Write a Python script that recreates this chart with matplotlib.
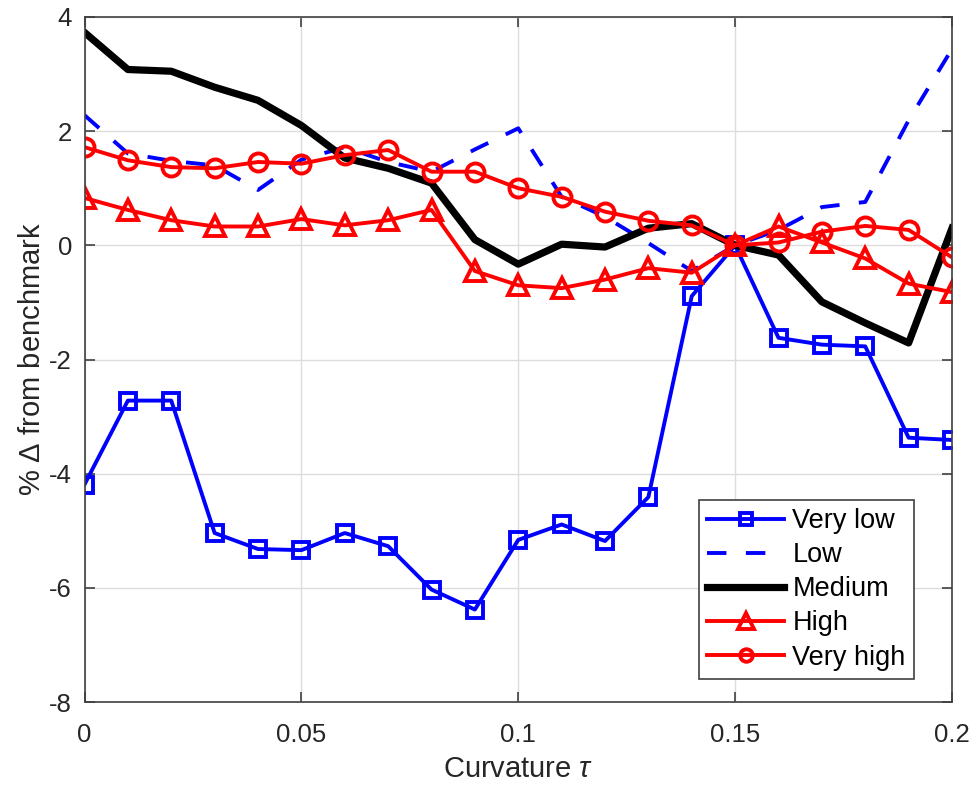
import numpy as np
import matplotlib
matplotlib.use("Agg")
import matplotlib.pyplot as plt

plt.rcParams['font.family'] = ['Liberation Sans', 'DejaVu Sans']
plt.rcParams['mathtext.fontset'] = 'custom'
plt.rcParams['mathtext.it'] = 'Liberation Sans:italic'
plt.rcParams['mathtext.rm'] = 'Liberation Sans'
plt.rcParams['axes.unicode_minus'] = False

tau = [0.00, 0.01, 0.02, 0.03, 0.04, 0.05, 0.06, 0.07, 0.08, 0.09, 0.10,
       0.11, 0.12, 0.13, 0.14, 0.15, 0.16, 0.17, 0.18, 0.19, 0.20]

very_low = [-4.19, -2.72, -2.72, -5.04, -5.32, -5.34, -5.04, -5.27, -6.03, -6.38, -5.16,
            -4.89, -5.18, -4.41, -0.89, 0.0, -1.62, -1.74, -1.77, -3.37, -3.41]
low = [2.28, 1.61, 1.48, 1.40, 0.97, 1.50, 1.72, 1.46, 1.29, 1.68, 2.05,
       0.85, 0.50, 0.04, -0.45, 0.0, 0.27, 0.67, 0.76, 2.19, 3.44]
medium = [3.73, 3.08, 3.05, 2.77, 2.54, 2.10, 1.53, 1.35, 1.09, 0.10, -0.33,
          0.02, -0.03, 0.30, 0.38, 0.0, -0.17, -0.99, -1.36, -1.71, 0.30]
high = [0.83, 0.62, 0.44, 0.33, 0.33, 0.46, 0.35, 0.44, 0.62, -0.45, -0.70,
        -0.75, -0.60, -0.40, -0.48, 0.0, 0.33, 0.05, -0.23, -0.67, -0.82]
very_high = [1.72, 1.49, 1.37, 1.35, 1.46, 1.43, 1.58, 1.67, 1.29, 1.29, 1.00,
             0.85, 0.59, 0.43, 0.35, 0.0, 0.05, 0.24, 0.34, 0.27, -0.21]

labels = ['Very low', 'Low', 'Medium', 'High', 'Very high']
xticks = [0, 0.05, 0.1, 0.15, 0.2]
xticklabels = ['0', '0.05', '0.1', '0.15', '0.2']
yticks = [-8, -6, -4, -2, 0, 2, 4]

fig = plt.figure(figsize=(9.75, 7.88), dpi=100)
ax = fig.add_axes([84.5/975, 1 - 702/788, (952 - 84.5)/975, (702 - 17)/788])

ax.plot(tau, very_low, color='#0000ff', lw=2.8, marker='s', ms=11.5, mfc='none',
        mew=2.8, label=labels[0])
ax.plot(tau, low, color='#0000ff', lw=2.8, ls=(0, (5, 5)), dash_capstyle='butt',
        label=labels[1])
ax.plot(tau, medium, color='black', lw=5.2, label=labels[2])
ax.plot(tau, high, color='#ff0000', lw=2.8, marker='^', ms=15, mfc='none',
        mew=2.8, label=labels[3])
ax.plot(tau, very_high, color='#ff0000', lw=2.8, marker='o', ms=13, mfc='none',
        mew=2.8, label=labels[4])

ax.set_xlim(0, 0.2)
ax.set_ylim(-8, 4)
ax.set_xticks(xticks)
ax.set_xticklabels(xticklabels)
ax.set_yticks(yticks)
ax.grid(True, color='#dcdcdc', lw=1.0)
ax.set_axisbelow(True)
for s in ax.spines.values():
    s.set_color('#404040')
    s.set_linewidth(1.2)
ax.tick_params(direction='in', length=7, width=1.2, colors='#404040',
               labelcolor='#262626', labelsize=18.5, top=True, right=True)
ax.tick_params(axis='x', pad=15)
ax.tick_params(axis='y', pad=9)

ax.set_xlabel(r'Curvature $\tau$', fontsize=21, color='#262626', labelpad=6)
ax.set_ylabel(r'% $\Delta$ from benchmark', fontsize=21, color='#262626', labelpad=2)

leg = fig.legend(loc='upper left', bbox_to_anchor=(699/975, 1 - 500/788),
                 bbox_transform=fig.transFigure, fontsize=19.5, frameon=True,
                 fancybox=False, edgecolor='#404040', handlelength=2.85,
                 labelspacing=0.3, borderpad=0.3, handletextpad=0.3,
                 borderaxespad=0)
leg.get_frame().set_linewidth(1.2)
leg.get_frame().set_alpha(1)
for h, m in zip(leg.legend_handles, [8, 0, 0, 12, 9]):
    if m:
        h.set_markersize(m)

fig.savefig('out.png', dpi=100, facecolor='white')
